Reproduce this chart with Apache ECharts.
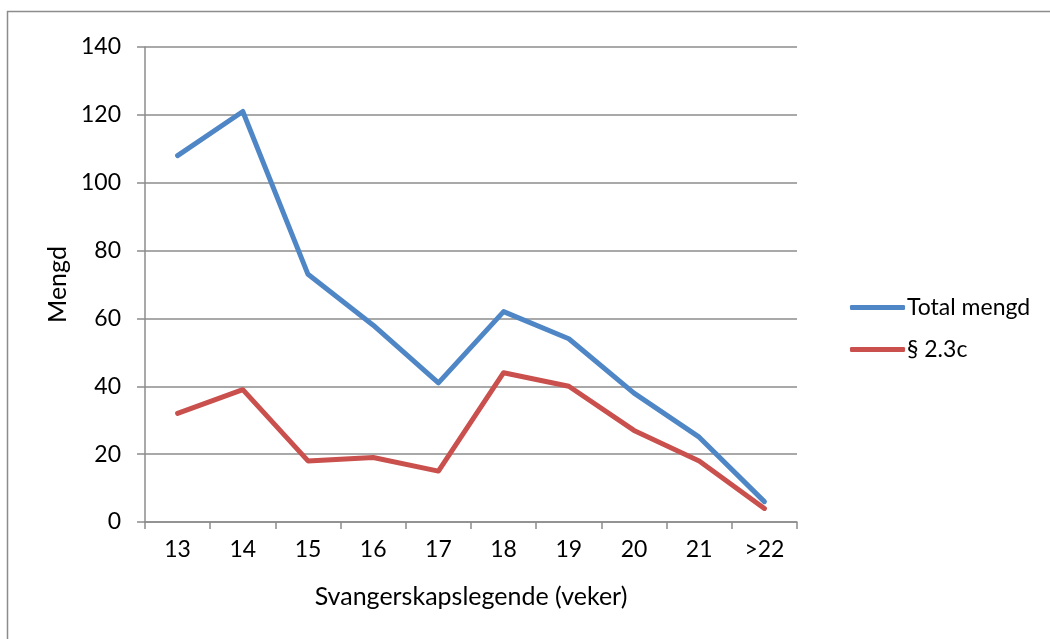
<!DOCTYPE html>
<html>
<head>
<meta charset="utf-8">
<script src="https://cdn.jsdelivr.net/npm/echarts@6/dist/echarts.min.js"></script>
<style>
html,body{margin:0;padding:0;background:#fff;}
#chart{width:1050px;height:639px;}
</style>
</head>
<body>
<div id="chart"></div>
<script>
const categories = ['13','14','15','16','17','18','19','20','21','>22'];
const totalMengd = [108,121,73,58,41,62,54,38,25,6];
const paragraf = [32,39,18,19,15,44,40,27,18,4];
const yTicks = {min:0, max:140, interval:20};

const FONT = 'Lato';
const FS = 23;
const FN = 25;
const chart = echarts.init(document.getElementById('chart'), null, {renderer:'canvas'});
chart.setOption({
  animation:false,
  backgroundColor:'#fff',
  textStyle:{fontFamily:FONT},
  graphic:[{
    type:'rect', silent:true, z:-10,
    shape:{x:7.5,y:11.5,width:1200,height:800},
    style:{fill:'none',stroke:'#8c8c8c',lineWidth:1.5}
  }],
  grid:{left:145, top:47, width:652, height:475},
  legend:{
    orient:'vertical', left:845, top:291,
    itemWidth:55, itemHeight:5, itemGap:19,
    icon:'roundRect',
    textStyle:{fontFamily:FONT, fontSize:FS, color:'#000', padding:[0,0,0,-3]},
    data:['Total mengd','§ 2.3c']
  },
  xAxis:{
    type:'category', data:categories, boundaryGap:true,
    name:'Svangerskapslegende (veker)', nameLocation:'middle', nameGap:62,
    nameTextStyle:{fontFamily:FONT,fontSize:FN,color:'#000'},
    axisLine:{lineStyle:{color:'#8c8c8c',width:1.5}},
    axisTick:{show:true,length:7,alignWithLabel:false,lineStyle:{color:'#8c8c8c',width:1.5}},
    axisLabel:{fontFamily:FONT,fontSize:FS,color:'#000',margin:16}
  },
  yAxis:{
    type:'value', min:yTicks.min, max:yTicks.max, interval:yTicks.interval,
    name:'Mengd', nameLocation:'middle', nameGap:67,
    nameTextStyle:{fontFamily:FONT,fontSize:FN,color:'#000'},
    axisLine:{show:true,lineStyle:{color:'#8c8c8c',width:1.5}},
    axisTick:{show:true,length:8,lineStyle:{color:'#8c8c8c',width:1.5}},
    axisLabel:{fontFamily:FONT,fontSize:FS,color:'#000',margin:24},
    splitLine:{show:true,lineStyle:{color:'#8c8c8c',width:1.5}}
  },
  series:[
    {name:'Total mengd', type:'line', data:totalMengd, showSymbol:false, symbol:'none',
     lineStyle:{width:5,color:'#4F86C6',cap:'round',join:'round'}, itemStyle:{color:'#4F86C6'}},
    {name:'§ 2.3c', type:'line', data:paragraf, showSymbol:false, symbol:'none',
     lineStyle:{width:5,color:'#C9504D',cap:'round',join:'round'}, itemStyle:{color:'#C9504D'}}
  ]
});
</script>
</body>
</html>
